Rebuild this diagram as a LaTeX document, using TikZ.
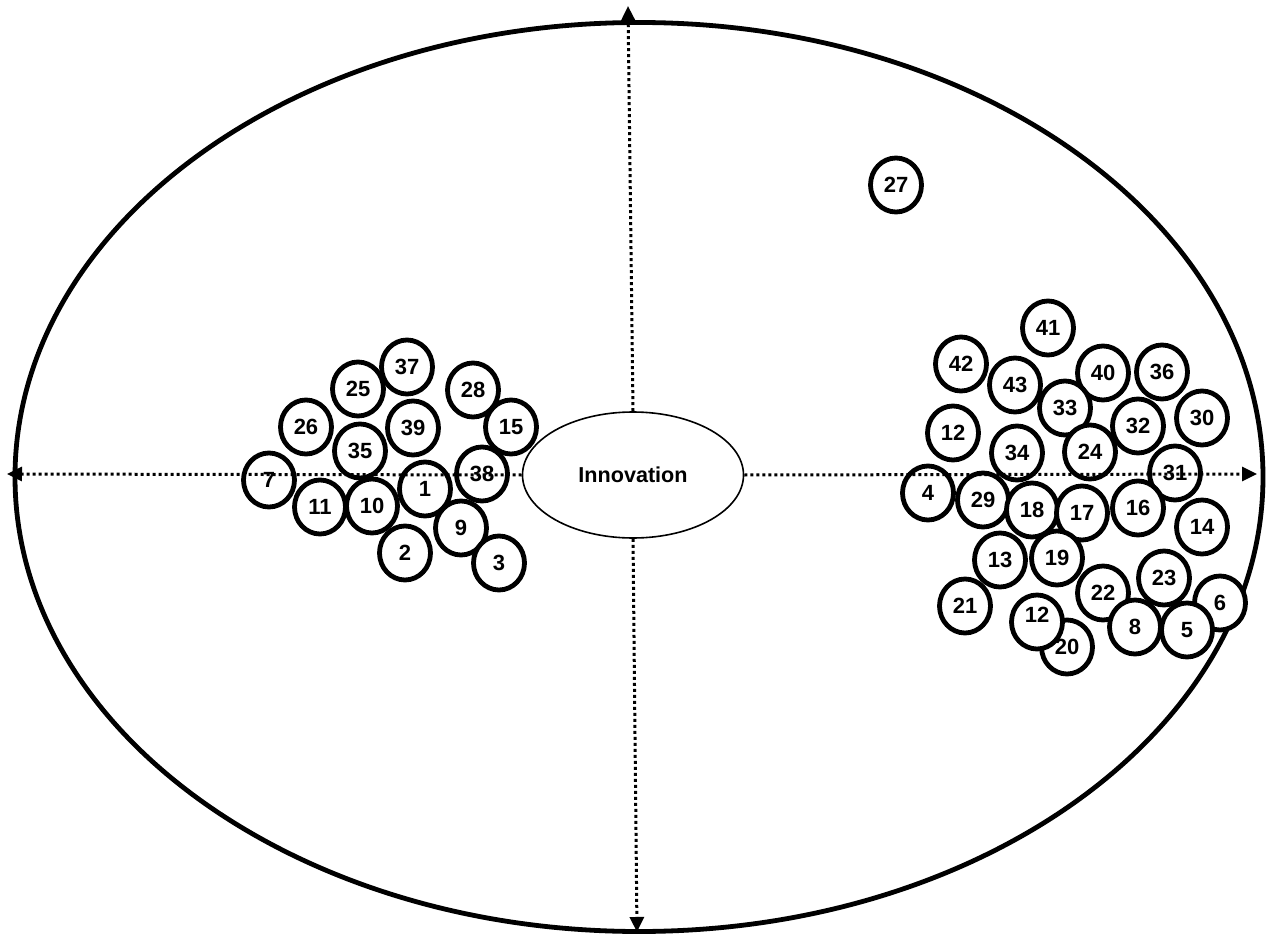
\documentclass[tikz,border=0pt]{standalone}
\usepackage{fontspec}
\setmainfont{Liberation Sans}
\usetikzlibrary{shapes.geometric,arrows.meta}
\begin{document}
\begin{tikzpicture}[x=0.5pt,y=-0.5pt,
  num/.style={ellipse,draw,line width=2.4pt,fill=white,inner sep=0pt,minimum width=25.5pt,minimum height=27pt,font=\fontsize{11}{13}\selectfont\bfseries},
  axis/.style={line width=1.5pt,dash pattern=on 1.5pt off 1.5pt,-{Triangle[length=7.5pt,width=7pt]}}]
\useasboundingbox (0,0) rectangle (1269,936);
\node[ellipse,draw,line width=2.4pt,minimum width=624pt,minimum height=454.5pt,inner sep=0pt] (outer) at (639,477) {};
\node[ellipse,draw,line width=0.8pt,minimum width=110.5pt,minimum height=63pt,inner sep=0pt,font=\fontsize{10.8}{13}\selectfont\bfseries] (innov) at (633,475) {Innovation};
% left cluster
\node[num] (n37) at (407,367) {37};
\node[num] (n25) at (358,389) {25};
\node[num] (n26) at (306,427) {26};
\node[num] (n39) at (413,428) {39};
\node[num] (n35) at (360,451) {35};
\node[num] (n28) at (473,390) {28};
\node[num] (n15) at (511,427) {15};
\node[num] (n38) at (482,474) {38};
\node[num] (n7) at (269,480) {7};
\node[num] (n11) at (320,507) {11};
\node[num] (n10) at (372,506) {10};
\node[num] (n1) at (425,489) {1};
\node[num] (n9) at (461,528) {9};
\node[num] (n2) at (405,553) {2};
\node[num] (n3) at (499,563) {3};
% top
\node[num] (n27) at (896,185) {27};
% right cluster
\node[num] (n41) at (1048,328) {41};
\node[num] (n42) at (961,364) {42};
\node[num] (n43) at (1015,385) {43};
\node[num] (n40) at (1103,373) {40};
\node[num] (n36) at (1162,372) {36};
\node[num] (n33) at (1065,408) {33};
\node[num] (n32) at (1138,426) {32};
\node[num] (n30) at (1202,418) {30};
\node[num] (n12a) at (953,433) {12};
\node[num] (n34) at (1017,453) {34};
\node[num] (n24) at (1090,452) {24};
\node[num] (n31) at (1175,473) {31};
\node[num] (n4) at (928,493) {4};
\node[num] (n29) at (983,500) {29};
\node[num] (n18) at (1032,510) {18};
\node[num] (n17) at (1082,513) {17};
\node[num] (n16) at (1138,508) {16};
\node[num] (n14) at (1202,527) {14};
\node[num] (n13) at (1000,560) {13};
\node[num] (n19) at (1057,558) {19};
\node[num] (n23) at (1164,578) {23};
\node[num] (n22) at (1103,593) {22};
\node[num] (n6) at (1220,603) {6};
\node[num] (n21) at (965,606) {21};
\node[num] (n20) at (1067,647) {20};
\node[num] (n12b) at (1037,622) {\raisebox{7pt}{12}};
\node[num] (n8) at (1135,627) {8};
\node[num] (n5) at (1187,630) {5};
% axes
\coordinate (tTop) at (628,6);
\coordinate (tBot) at (637,932);
\coordinate (tLeft) at (7,474);
\coordinate (tRight) at (1257,474);
\draw[axis] (innov.north) -- (tTop);
\draw[axis] (innov.south) -- (tBot);
\draw[axis] (innov.west) -- (tLeft);
\draw[axis] (innov.east) -- (tRight);
\end{tikzpicture}
\end{document}
